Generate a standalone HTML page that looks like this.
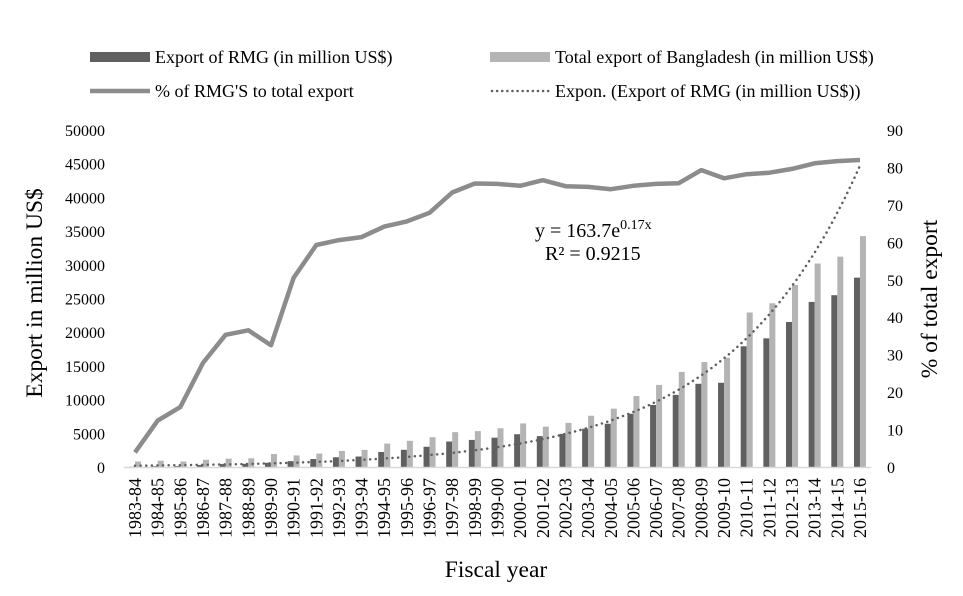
<!DOCTYPE html>
<html><head><meta charset="utf-8">
<style>
html,body{margin:0;padding:0;background:#fff;}
svg, svg text{font-family:"Liberation Serif","DejaVu Serif",serif;}
</style></head>
<body>
<svg id="chart" width="963" height="591" viewBox="0 0 963 591" xmlns="http://www.w3.org/2000/svg" font-family="Liberation Serif, serif">
  <g font-size="18" fill="#000">
    <g>
      <rect x="90" y="52" width="60" height="10" fill="#606060"/>
      <text x="155" y="63">Export of RMG (in million US$)</text>
    </g>
    <g>
      <rect x="490" y="52" width="60" height="10" fill="#b4b4b4"/>
      <text x="555" y="63">Total export of Bangladesh  (in million US$)</text>
    </g>
    <g>
      <line x1="90" y1="91" x2="150" y2="91" stroke="#8c8c8c" stroke-width="4.5"/>
      <text x="155" y="97">% of RMG'S to  total export</text>
    </g>
    <g>
      <line x1="492" y1="91" x2="550" y2="91" stroke="#606060" stroke-width="2.5" stroke-dasharray="0.1 5" stroke-linecap="round"/>
      <text x="555" y="97">Expon. (Export of RMG (in million US$))</text>
    </g>
  </g>
  <g id="yleft" font-size="16"></g>
  <g id="yright" font-size="16"></g>
  <g id="bars"></g>
  <g id="lines"></g>
  <g id="xaxis" font-size="18"></g>
  <text font-size="23.5" text-anchor="middle" transform="translate(42,293) rotate(-90)">Export in million US$</text>
  <text font-size="23.5" text-anchor="middle" transform="translate(937,299) rotate(-90)">% of total export</text>
  <text font-size="23.5" text-anchor="middle" x="496" y="577">Fiscal year</text>
  <g font-size="20">
    <text x="535" y="237">y = 163.7e<tspan font-size="14" dy="-8">0.17x</tspan></text>
    <text x="545" y="260" dy="0">R² = 0.9215</text>
  </g>
</svg>
<script>
const categories=["1983-84","1984-85","1985-86","1986-87","1987-88","1988-89","1989-90","1990-91","1991-92","1992-93","1993-94","1994-95","1995-96","1996-97","1997-98","1998-99","1999-00","2000-01","2001-02","2002-03","2003-04","2004-05","2005-06","2006-07","2007-08","2008-09","2009-10","2010-11","2011-12","2012-13","2013-14","2014-15","2015-16"];
const rmgExport=[31,116,131,299,434,471,624,866,1182,1445,1556,2228,2548,3001,3781,4019,4349,4860,4583,4912,5686,6418,7901,9211,10700,12347,12497,17914,19089,21516,24491,25491,28094];
const totalExport=[811,934,819,1074,1231,1291,1924,1717,1994,2383,2534,3473,3882,4418,5172,5324,5752,6467,5986,6548,7603,8655,10526,12178,14111,15565,16205,22924,24287,27018,30187,31209,34257];
const rmgPercent=[3.9,12.4,16.0,27.8,35.3,36.5,32.5,50.5,59.3,60.6,61.4,64.2,65.6,67.9,73.3,75.7,75.6,75.1,76.6,75.0,74.8,74.2,75.1,75.6,75.8,79.3,77.1,78.2,78.6,79.6,81.1,81.7,82.0];
const leftTicks=[0,5000,10000,15000,20000,25000,30000,35000,40000,45000,50000];
const rightTicks=[0,10,20,30,40,50,60,70,80,90];
const trendA=163.7, trendB=0.17;

const NS="http://www.w3.org/2000/svg";
const L=123.7,R=871.3,B=467,T=130;
const step=(R-L)/categories.length;
const xc=i=>L+step*(i+0.5);
const yL=v=>B-(v/50000)*(B-T);
const yR=v=>B-(v/90)*(B-T);
function mk(tag,attrs,parent){const e=document.createElementNS(NS,tag);for(const k in attrs)e.setAttribute(k,attrs[k]);parent.appendChild(e);return e;}

const gl=document.getElementById('yleft');
leftTicks.forEach(v=>{const t=mk('text',{x:105,y:yL(v)+6,'text-anchor':'end'},gl);t.textContent=v;

});
const gr=document.getElementById('yright');
rightTicks.forEach(v=>{const t=mk('text',{x:887,y:yR(v)+6,'text-anchor':'start'},gr);t.textContent=v;

});

const gb=document.getElementById('bars');
categories.forEach((c,i)=>{
  const cx=xc(i);
  const r1=mk('rect',{x:cx-6,y:yL(rmgExport[i]),width:6,height:B-yL(rmgExport[i]),fill:'#606060'},gb);
  
  
  const r2=mk('rect',{x:cx,y:yL(totalExport[i]),width:6,height:B-yL(totalExport[i]),fill:'#b4b4b4'},gb);
  
  
});
const ax=mk('line',{x1:L,y1:B+0.5,x2:R,y2:B+0.5,stroke:'#d9d9d9','stroke-width':1.5},gb);



const gli=document.getElementById('lines');
let tp=[];
for(let s=0;s<=(categories.length-1)*4;s++){const x=1+s/4;tp.push((L+step*(x-0.5)).toFixed(1)+','+yL(trendA*Math.exp(trendB*x)).toFixed(1));}
const tr=mk('polyline',{points:tp.join(' '),fill:'none',stroke:'#606060','stroke-width':2.5,'stroke-dasharray':'0.1 5.5','stroke-linecap':'round'},gli);


const pp=rmgPercent.map((v,i)=>xc(i).toFixed(1)+','+yR(v).toFixed(1)).join(' ');
const pl=mk('polyline',{points:pp,fill:'none',stroke:'#8c8c8c','stroke-width':4.5,'stroke-linejoin':'round'},gli);



const gx=document.getElementById('xaxis');
categories.forEach((c,i)=>{const t=mk('text',{'text-anchor':'end',transform:`translate(${xc(i)+6},${B+11}) rotate(-90)`},gx);t.textContent=c;

});
</script>
</body></html>
